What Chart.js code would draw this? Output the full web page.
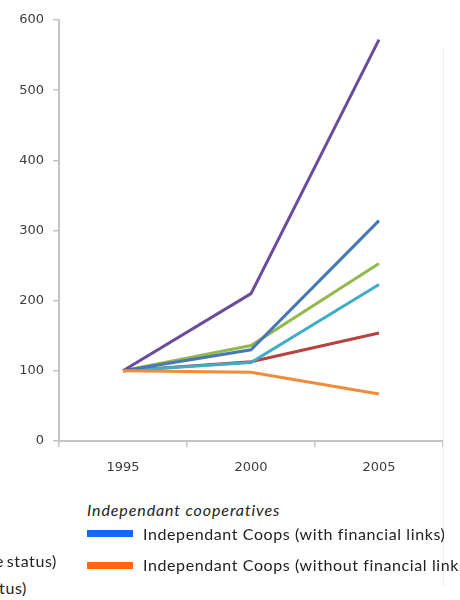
<!DOCTYPE html>
<html>
<head>
<meta charset="utf-8">
<script src="https://cdn.jsdelivr.net/npm/chart.js@4.4.1/dist/chart.umd.min.js"></script>
<style>
  html, body { margin: 0; padding: 0; background: #fff; }
  body { width: 460px; height: 600px; overflow: hidden; position: relative; font-family: Lato, "Open Sans", sans-serif; color: #222; }
  #box { position: absolute; left: 0; top: 0; width: 460px; height: 480px; }
  .leg { position: absolute; white-space: nowrap; font-size: 16px; line-height: 18px; letter-spacing: 0.6px; }
  .sw { position: absolute; left: 87px; width: 46px; height: 7px; }
  .edge { position: absolute; left: 443px; top: 48px; width: 1px; height: 540px; background: #f0f0f0; }
</style>
</head>
<body>
<div id="box"><canvas id="myChart"></canvas></div>
<div class="edge"></div>

<div class="leg" style="left:87px;top:501px;font-style:italic;letter-spacing:0.9px;">Independant cooperatives</div>
<div class="sw" style="top:530px;background:#0f6cf0;"></div>
<div class="leg" style="left:143px;top:525px;">Independant Coops (with financial links)</div>
<div class="sw" style="top:562px;background:#ff6a06;"></div>
<div class="leg" style="left:143px;top:556px;">Independant Coops (without financial links)</div>
<div class="leg" style="right:403px;top:552px;word-spacing:-2px;">Cooperative groups (cooperative status)</div>
<div class="leg" style="right:433px;top:579px;">Cooperative groups (other status)</div>

<script>
// annees
var years = ['1995', '2000', '2005'];
// serie (indice 1995 = 100)
var purpleLine = [100, 210, 572];
var blueLine = [100, 130, 314];
var greenLine = [100, 136, 253];
var cyanLine = [100, 112, 223];
var redLine = [100, 113, 154];
var orangeLine = [100, 98, 67];
// etichette asse y
var yTicks = [0, 100, 200, 300, 400, 500, 600];

function serie(valori, colore){
    return {
        data: valori,
        borderColor: colore,
        backgroundColor: colore,
        borderWidth: 3,
        pointRadius: 0,
        tension: 0,
        fill: false
    };
}

var ctx = document.getElementById('myChart').getContext('2d');
var myLineChart = new Chart(ctx, {
    type: 'line',
    data: {
        labels: years,
        datasets: [
            serie(orangeLine, '#f28c3a'),
            serie(purpleLine, '#6a4c9c'),
            serie(blueLine, '#4677b6'),
            serie(greenLine, '#93b94a'),
            serie(cyanLine, '#3fadc6'),
            serie(redLine, '#b8423f')
        ]
    },
    options: {
        responsive: true,
        maintainAspectRatio: false,
        animation: false,
        layout: { padding: { left: 0, right: 17, top: 20, bottom: 0 } },
        plugins: { legend: { display: false }, tooltip: { enabled: false } },
        scales: {
            x: {
                offset: true,
                grid: { offset: true, drawOnChartArea: false, tickLength: 6, color: '#c4c4c4', lineWidth: 1.5 },
                border: { color: '#c4c4c4', width: 2 },
                ticks: { padding: 13, color: '#3c3c3c', font: { family: 'DejaVu Sans', size: 13 } },
                afterFit: function(s){ s.height = 39; }
            },
            y: {
                min: 0,
                max: 600,
                afterBuildTicks: function(s){ s.ticks = yTicks.map(function(v){ return { value: v }; }); },
                grid: { drawOnChartArea: false, tickLength: 6, color: '#c4c4c4', lineWidth: 1.5 },
                border: { color: '#c4c4c4', width: 2 },
                ticks: { padding: 9, color: '#3c3c3c', font: { family: 'DejaVu Sans', size: 13 } },
                afterFit: function(s){ s.width = 59; }
            }
        }
    }
});
</script>
</body>
</html>
